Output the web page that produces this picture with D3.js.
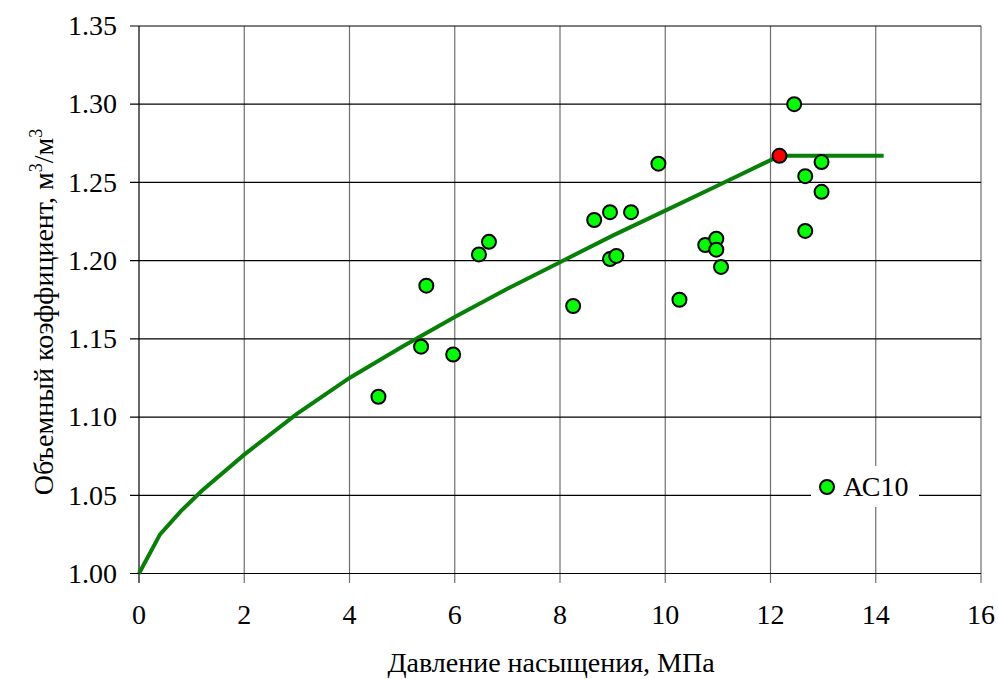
<!DOCTYPE html>
<html><head><meta charset="utf-8">
<script src="https://cdn.jsdelivr.net/npm/d3@7"></script>
<style>body{margin:0;background:#fff}svg{display:block}</style>
</head><body><svg id="c" width="998" height="679" font-family="'Times New Roman', 'Liberation Serif', 'DejaVu Serif', serif"></svg>
<script>
const xTicks = [0,2,4,6,8,10,12,14,16];
const yTicks = [1.00,1.05,1.10,1.15,1.20,1.25,1.30,1.35];
const curveP = [0,0.4,0.8,1.2,2,3,4,5,6,7,8,9,10,11,12.17,14.15];
const curveB = [1.000,1.025,1.040,1.053,1.076,1.102,1.125,1.145,1.164,1.182,1.199,1.216,1.232,1.248,1.267,1.267];
const ptsP = [4.55,5.36,5.46,5.97,6.46,6.65,8.25,8.65,8.95,8.95,9.07,9.35,9.87,10.27,10.76,10.97,10.97,11.06,12.45,12.97,12.66,12.97,12.66];
const ptsB = [1.113,1.145,1.184,1.140,1.204,1.212,1.171,1.226,1.231,1.201,1.203,1.231,1.262,1.175,1.210,1.214,1.207,1.196,1.300,1.263,1.254,1.244,1.219];
const redP = [12.17];
const redB = [1.267];
const legendLabel = "АС10";

const svg = d3.select("#c");
const x = d3.scaleLinear().domain([0,16]).range([139,981]);
const y = d3.scaleLinear().domain([1.00,1.35]).range([573.5,26]);

svg.append("g").selectAll("line").data(xTicks).join("line")
  .attr("x1",d=>x(d)).attr("x2",d=>x(d)).attr("y1",y(1.35)).attr("y2",583)
  .attr("stroke",d=>d===0?"#000":"#6e6e6e").attr("stroke-width",1.2);
svg.append("g").selectAll("line").data(yTicks).join("line")
  .attr("x1",130).attr("x2",x(16)).attr("y1",d=>y(d)).attr("y2",d=>y(d))
  .attr("stroke","#000").attr("stroke-width",1.2);

svg.append("g").selectAll("text").data(xTicks).join("text")
  .attr("x",d=>x(d)).attr("y",624).attr("text-anchor","middle")
  .attr("font-size",28).text(d=>d);
svg.append("g").selectAll("text").data(yTicks).join("text")
  .attr("x",117).attr("y",d=>y(d)).attr("dy","0.33em").attr("text-anchor","end")
  .attr("font-size",28).text(d=>d.toFixed(2));

svg.append("rect").attr("x",811).attr("y",466).attr("width",108).attr("height",41).attr("fill","#fff");

const line = d3.line().x(d=>x(d[0])).y(d=>y(d[1]));
svg.append("path").datum(curveP.map((p,i)=>[p,curveB[i]]))
  .attr("d",line).attr("fill","none").attr("stroke","#078007").attr("stroke-width",4);

svg.append("g").selectAll("circle").data(ptsP.map((p,i)=>[p,ptsB[i]])).join("circle")
  .attr("cx",d=>x(d[0])).attr("cy",d=>y(d[1])).attr("r",7)
  .attr("fill","#00ff00").attr("stroke","#000").attr("stroke-width",2);
svg.append("g").selectAll("circle").data(redP.map((p,i)=>[p,redB[i]])).join("circle")
  .attr("cx",d=>x(d[0])).attr("cy",d=>y(d[1])).attr("r",7)
  .attr("fill","#ff0000").attr("stroke","#000").attr("stroke-width",2);

svg.append("circle").attr("cx",827).attr("cy",487).attr("r",7)
  .attr("fill","#00ff00").attr("stroke","#000").attr("stroke-width",2);
svg.append("text").attr("x",843).attr("y",487).attr("dy","0.33em").attr("font-size",28).text(legendLabel);

svg.append("text").attr("x",551).attr("y",672).attr("text-anchor","middle").attr("font-size",28)
  .text("Давление насыщения, МПа");
const yt = svg.append("text").attr("transform","translate(53,312) rotate(-90)")
  .attr("text-anchor","middle").attr("font-size",28);
yt.append("tspan").text("Объемный коэффициент, м");
yt.append("tspan").attr("font-size",18).attr("dy",-11).text("3");
yt.append("tspan").attr("dy",11).text("/м");
yt.append("tspan").attr("font-size",18).attr("dy",-11).text("3");
</script></body></html>
